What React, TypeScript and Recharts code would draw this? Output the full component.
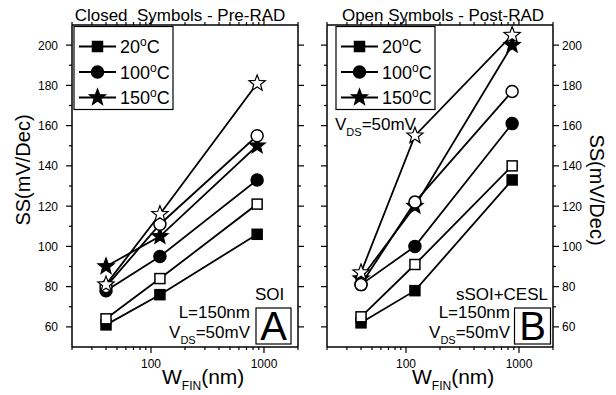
import React from 'react';
import { LineChart, Line, XAxis, YAxis } from 'recharts';

const FONT = '"Liberation Sans", Arial, sans-serif';

const W_FIN = [40, 120, 870];
const X_TICKS = [20, 30, 40, 50, 60, 70, 80, 90, 100, 200, 300, 400, 500, 600, 700, 800, 900, 1000, 2000];
const X_LABELS = [100, 1000];
const Y_TICKS = [60, 70, 80, 90, 100, 110, 120, 130, 140, 150, 160, 170, 180, 190, 200];
const Y_LABELS = [60, 80, 100, 120, 140, 160, 180, 200];
const TEMPS = ['20', '100', '150'];

// panel A: SOI  (closed = pre-RAD, open = post-RAD)
const soiPre20 = [61, 76, 106];
const soiPre100 = [78, 95, 133];
const soiPre150 = [90, 105, 150];
const soiPost20 = [64, 84, 121];
const soiPost100 = [80, 111, 155];
const soiPost150 = [81, 116, 181];

// panel B: sSOI+CESL
const cesPre20 = [62, 78, 133];
const cesPre100 = [81, 100, 161];
const cesPre150 = [84, 120, 200];
const cesPost20 = [65, 91, 140];
const cesPost100 = [81, 122, 177];
const cesPost150 = [87, 155, 205];

type Shape = 'square' | 'circle' | 'star';
const SHAPES: Shape[] = ['square', 'circle', 'star'];

const starPoints = (cx: number, cy: number, R: number, r: number) => {
  const pts: string[] = [];
  for (let i = 0; i < 10; i++) {
    const a = -Math.PI / 2 + (i * Math.PI) / 5;
    const rad = i % 2 === 0 ? R : r;
    pts.push(`${cx + rad * Math.cos(a)},${cy + rad * Math.sin(a)}`);
  }
  return pts.join(' ');
};

const Marker = ({ cx, cy, shape, open }: { cx: number; cy: number; shape: Shape; open: boolean }) => {
  const fill = open ? '#fff' : '#000';
  if (shape === 'square')
    return <rect x={cx - 5} y={cy - 5} width={10} height={10} fill={fill} stroke="#000" strokeWidth={1.5} />;
  if (shape === 'circle') return <circle cx={cx} cy={cy} r={6} fill={fill} stroke="#000" strokeWidth={1.5} />;
  return <polygon points={starPoints(cx, cy, 8.5, 3.6)} fill={fill} stroke="#000" strokeWidth={1.2} strokeLinejoin="miter" />;
};

const buildSeries = (pre: number[][], post: number[][]) => [
  ...pre.map((v, i) => ({ key: `pre${i}`, values: v, shape: SHAPES[i], open: false })),
  ...post.map((v, i) => ({ key: `post${i}`, values: v, shape: SHAPES[i], open: true })),
];

const soiSeries = buildSeries([soiPre20, soiPre100, soiPre150], [soiPost20, soiPost100, soiPost150]);
const cesSeries = buildSeries([cesPre20, cesPre100, cesPre150], [cesPost20, cesPost100, cesPost150]);

const toRows = (series: { key: string; values: number[] }[]) =>
  W_FIN.map((w, i) => {
    const row: Record<string, number> = { w };
    series.forEach((s) => (row[s.key] = s.values[i]));
    return row;
  });

const BottomTick = (p: any) => {
  const major = X_LABELS.includes(p.payload.value);
  return (
    <g>
      <line x1={p.x} x2={p.x} y1={p.y} y2={p.y + (major ? 6 : 3)} stroke="#000" strokeWidth={1.2} />
      {major && (
        <text x={p.x} y={p.y + 21} textAnchor="middle" fontSize={12} fontFamily={FONT} fill="#000">
          {p.payload.value}
        </text>
      )}
    </g>
  );
};

const TopTick = (p: any) => {
  const major = X_LABELS.includes(p.payload.value);
  return <line x1={p.x} x2={p.x} y1={p.y} y2={p.y - (major ? 6 : 3)} stroke="#000" strokeWidth={1.2} />;
};

const makeYTick = (side: 'left' | 'right', labelled: boolean) => (p: any) => {
  const major = Y_LABELS.includes(p.payload.value);
  const dir = side === 'left' ? -1 : 1;
  const len = major ? 6 : 3;
  return (
    <g>
      <line x1={p.x} x2={p.x + dir * len} y1={p.y} y2={p.y} stroke="#000" strokeWidth={1.2} />
      {labelled && major && (
        <text
          x={side === 'left' ? p.x - 14 : p.x + 9}
          y={p.y + 4.5}
          textAnchor={side === 'left' ? 'end' : 'start'}
          fontSize={12}
          fontFamily={FONT}
          fill="#000"
        >
          {p.payload.value}
        </text>
      )}
    </g>
  );
};

const axisLine = { stroke: '#000', strokeWidth: 1.5 };

const Panel = ({ series, labelSide, left, margin }: any) => {
  const rows = toRows(series);
  return (
    <div style={{ position: 'absolute', left, top: 0 }}>
      <LineChart width={310} height={395} data={rows} margin={margin}>
        <XAxis
          dataKey="w"
          type="number"
          scale="log"
          domain={[20, 2000]}
          allowDataOverflow
          ticks={X_TICKS}
          interval={0}
          height={1}
          tickSize={0}
          tickMargin={0}
          axisLine={axisLine}
          tickLine={false}
          tick={BottomTick}
        />
        <XAxis
          xAxisId="top"
          orientation="top"
          dataKey="w"
          type="number"
          scale="log"
          domain={[20, 2000]}
          allowDataOverflow
          ticks={X_TICKS}
          interval={0}
          height={1}
          tickSize={0}
          tickMargin={0}
          axisLine={axisLine}
          tickLine={false}
          tick={TopTick}
        />
        <YAxis
          type="number"
          domain={[50, 210]}
          allowDataOverflow
          ticks={Y_TICKS}
          interval={0}
          width={1}
          tickSize={0}
          tickMargin={0}
          axisLine={axisLine}
          tickLine={false}
          tick={makeYTick('left', labelSide === 'left')}
        />
        <YAxis
          yAxisId="right"
          orientation="right"
          type="number"
          domain={[50, 210]}
          allowDataOverflow
          ticks={Y_TICKS}
          interval={0}
          width={1}
          tickSize={0}
          tickMargin={0}
          axisLine={axisLine}
          tickLine={false}
          tick={makeYTick('right', labelSide === 'right')}
        />
        {series.map((s: any) => (
          <Line
            key={s.key}
            dataKey={s.key}
            type="linear"
            stroke="#000"
            strokeWidth={1.8}
            isAnimationActive={false}
            activeDot={false}
            dot={(d: any) => <Marker key={`${s.key}-${d.index}`} cx={d.cx} cy={d.cy} shape={s.shape} open={s.open} />}
          />
        ))}
      </LineChart>
    </div>
  );
};

const Deg = ({ t }: { t: string }) => (
  <>
    <tspan>{t}</tspan>
    <tspan dy={-7} fontSize={12}>o</tspan>
    <tspan dy={7}>C</tspan>
  </>
);

const LegendBox = ({ x, y }: { x: number; y: number }) => (
  <g>
    <rect x={x} y={y} width={99} height={83} fill="#fff" stroke="#000" strokeWidth={1.2} />
    {TEMPS.map((t, i) => {
      const cy = y + 20 + i * 25.5;
      return (
        <g key={t}>
          <line x1={x + 5} x2={x + 42} y1={cy} y2={cy} stroke="#000" strokeWidth={1.8} />
          <Marker cx={x + 23.5} cy={cy} shape={SHAPES[i]} open={false} />
          <text x={x + 46} y={cy + 6.5} fontSize={18} fontFamily={FONT} fill="#000">
            <Deg t={t} />
          </text>
        </g>
      );
    })}
  </g>
);

const Vds = ({ x, y, anchor }: { x: number; y: number; anchor: 'start' | 'end' }) => (
  <text x={x} y={y} textAnchor={anchor} fontSize={17} fontFamily={FONT} fill="#000">
    V<tspan dy={6} fontSize={11}>DS</tspan>
    <tspan dy={-6}>=50mV</tspan>
  </text>
);

const XLabel = ({ x }: { x: number }) => (
  <text x={x} y={384} fontSize={21} fontFamily={FONT} fill="#000">
    W<tspan dy={6} fontSize={12}>FIN</tspan>
    <tspan dy={-6}>(nm)</tspan>
  </text>
);

export default function App() {
  return (
    <div style={{ position: 'absolute', left: 0, top: 0, width: 616, height: 395, background: '#fff' }}>
      <Panel series={soiSeries} labelSide="left" left={0} margin={{ top: 24, bottom: 47, left: 71, right: 11 }} />
      <Panel series={cesSeries} labelSide="right" left={306} margin={{ top: 24, bottom: 47, left: 20, right: 62 }} />
      <svg width={616} height={395} style={{ position: 'absolute', left: 0, top: 0, pointerEvents: 'none' }}>
        <text x={180} y={21} textAnchor="middle" fontSize={17} fontFamily={FONT} fill="#000" style={{ whiteSpace: 'pre' }}>
          {'Closed  Symbols - Pre-RAD'}
        </text>
        <text x={443} y={21} textAnchor="middle" fontSize={17} fontFamily={FONT} fill="#000">
          Open Symbols - Post-RAD
        </text>

        <LegendBox x={74} y={26.5} />
        <LegendBox x={336} y={26.5} />
        <Vds x={335} y={130} anchor="start" />

        <text x={255} y={300} fontSize={17} fontFamily={FONT} fill="#000">SOI</text>
        <text x={250} y={318} textAnchor="end" fontSize={17} fontFamily={FONT} fill="#000">L=150nm</text>
        <Vds x={250} y={338} anchor="end" />
        <rect x={256} y={308} width={35} height={36} fill="none" stroke="#000" strokeWidth={1.2} />
        <text x={273.5} y={340} textAnchor="middle" fontSize={40} fontFamily={FONT} fill="#000">A</text>

        <text x={548} y={300} textAnchor="end" fontSize={17} fontFamily={FONT} fill="#000">sSOI+CESL</text>
        <text x={510} y={318} textAnchor="end" fontSize={17} fontFamily={FONT} fill="#000">L=150nm</text>
        <Vds x={510} y={338} anchor="end" />
        <rect x={514.5} y={308} width={36} height={36} fill="none" stroke="#000" strokeWidth={1.2} />
        <text x={532.5} y={340} textAnchor="middle" fontSize={40} fontFamily={FONT} fill="#000">B</text>

        <XLabel x={162} />
        <XLabel x={412} />
        <text transform="translate(30,170) rotate(-90)" textAnchor="middle" fontSize={20} fontFamily={FONT} fill="#000">
          SS(mV/Dec)
        </text>
        <text transform="translate(590,190) rotate(90)" textAnchor="middle" fontSize={20} fontFamily={FONT} fill="#000">
          SS(mV/Dec)
        </text>
      </svg>
    </div>
  );
}
